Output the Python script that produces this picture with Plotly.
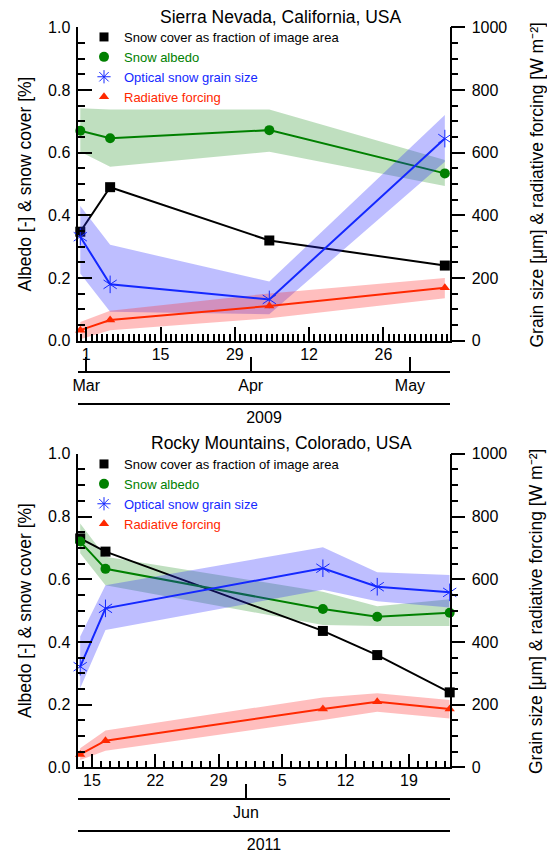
import pandas as pd
import plotly.graph_objects as go

# Sierra Nevada, 2009
sn_dates = ["2009-02-27 21:00", "2009-03-05 12:00", "2009-04-04 12:00", "2009-05-07 14:00"]
sn_range = ["2009-02-27 12:00", "2009-05-08 12:00"]
sn_cover = [0.348, 0.49, 0.32, 0.24]
sn_albedo = [0.670, 0.646, 0.672, 0.534]
sn_albedo_hi = [0.742, 0.738, 0.738, 0.577]
sn_albedo_lo = [0.603, 0.555, 0.603, 0.494]
sn_grain = [332, 180, 132, 645]
sn_grain_hi = [430, 306, 189, 720]
sn_grain_lo = [215, 93, 85, 571]
sn_rf = [34, 66, 111, 169]
sn_rf_hi = [60, 96, 151, 200]
sn_rf_lo = [5, 34, 72, 136]
sn_months = ["2009-03-01", "2009-04-01", "2009-05-01"]
sn_month_names = ["Mar", "Apr", "May"]

# Rocky Mountains, 2011
rm_dates = ["2011-05-13 17:00", "2011-05-16 12:00", "2011-06-09 12:00", "2011-06-15 12:00", "2011-06-23 12:00"]
rm_range = ["2011-05-13 12:00", "2011-06-23 12:00"]
rm_cover = [0.730, 0.688, 0.435, 0.358, 0.239]
rm_albedo = [0.72, 0.633, 0.505, 0.48, 0.493]
rm_albedo_hi = [0.778, 0.672, 0.56, 0.514, 0.536]
rm_albedo_lo = [0.683, 0.581, 0.454, 0.451, 0.451]
rm_grain = [321, 507, 635, 576, 558]
rm_grain_hi = [417, 581, 702, 622, 613]
rm_grain_lo = [252, 438, 566, 530, 510]
rm_rf = [41, 85, 186, 209, 186]
rm_rf_hi = [61, 117, 223, 236, 215]
rm_rf_lo = [23, 53, 151, 177, 156]
rm_months = ["2011-06-01"]
rm_month_names = ["Jun"]

names = ["Snow cover as fraction of image area", "Snow albedo",
         "Optical snow grain size", "Radiative forcing"]

BLACK = "black"
GREEN = "rgb(0,128,0)"
BLUE = "rgb(20,40,255)"
RED = "rgb(255,40,0)"
DAY = 86400000
W, H = 547, 853
FONT = "Liberation Sans, Arial, sans-serif"

fig = go.Figure()


def band(dates, hi, lo, color, xa, ya):
    fig.add_trace(go.Scatter(x=list(dates) + list(dates)[::-1], y=list(hi) + list(lo)[::-1],
                             fill="toself", fillcolor=color, line=dict(width=0), mode="lines",
                             showlegend=False, hoverinfo="skip", xaxis=xa, yaxis=ya))


def series(dates, vals, color, symbol, size, xa, ya):
    fig.add_trace(go.Scatter(x=dates, y=vals, mode="lines+markers", line=dict(color=color, width=2),
                             marker=dict(symbol=symbol, size=size, color=color),
                             showlegend=False, cliponaxis=False, xaxis=xa, yaxis=ya))


def star(dates, vals, color, xa, ya):
    # six-armed asterisk: y-up + y-down drawn on top of each other
    for s in ["y-up-open", "y-down-open"]:
        fig.add_trace(go.Scatter(x=dates, y=vals, mode="markers",
                                 marker=dict(symbol=s, size=11, color=color,
                                             line=dict(color=color, width=1)),
                                 showlegend=False, cliponaxis=False, hoverinfo="skip",
                                 xaxis=xa, yaxis=ya))


def panel(dates, cover, alb, alb_hi, alb_lo, grain, grain_hi, grain_lo, rf, rf_hi, rf_lo,
          xa, yl, yr, leg, extra_x):
    band(dates, alb_hi, alb_lo, "rgba(0,128,0,0.25)", xa, yl)
    band(dates, grain_hi, grain_lo, "rgba(40,40,255,0.3)", xa, yr)
    band(dates, rf_hi, rf_lo, "rgba(255,40,40,0.3)", xa, yr)
    series(dates, cover, BLACK, "square", 10, xa, yl)
    series(dates, alb, GREEN, "circle", 10, xa, yl)
    series(dates, grain, BLUE, "line-ns", 1, xa, yr)
    star(dates, grain, BLUE, xa, yr)
    series(dates, rf, RED, "triangle-up", 9, xa, yr)
    # invisible traces so the month / year axes get drawn
    for ax in extra_x:
        fig.add_trace(go.Scatter(x=dates, y=cover, mode="markers", marker=dict(opacity=0),
                                 showlegend=False, hoverinfo="skip", xaxis=ax, yaxis=yl))
    # legend entries (marker only, coloured text)
    for nm, c, s, sz in zip(names, [BLACK, GREEN, BLUE, RED],
                            ["square", "circle", "asterisk-open", "triangle-up"], [9, 10, 11, 9]):
        mk = dict(symbol=s, size=sz, color=c)
        if s == "asterisk-open":
            mk["line"] = dict(color=c, width=1)
        fig.add_trace(go.Scatter(x=[None], y=[None], mode="markers", marker=mk,
                                 name=f'<span style="color:{c}">{nm}</span>',
                                 legend=leg, xaxis=xa, yaxis=yl))


panel(sn_dates, sn_cover, sn_albedo, sn_albedo_hi, sn_albedo_lo, sn_grain, sn_grain_hi, sn_grain_lo,
      sn_rf, sn_rf_hi, sn_rf_lo, "x", "y", "y2", "legend", ["x3", "x5"])
panel(rm_dates, rm_cover, rm_albedo, rm_albedo_hi, rm_albedo_lo, rm_grain, rm_grain_hi, rm_grain_lo,
      rm_rf, rm_rf_hi, rm_rf_lo, "x2", "y3", "y4", "legend2", ["x4", "x6"])

xdom = [78.3 / W, 449.7 / W]
top_dom = [1 - 340.8 / H, 1 - 27.3 / H]
bot_dom = [1 - 767.3 / H, 1 - 453.8 / H]

axline = dict(showline=True, linecolor="black", linewidth=1.5, showgrid=False, zeroline=False,
              automargin=False, tickcolor="black", tickwidth=1.5)


def mid(r):
    a, b = pd.Timestamp(r[0]), pd.Timestamp(r[1])
    return (a + (b - a) / 2).strftime("%Y-%m-%d %H:%M")


def day_axis(rng, tick0, step, anchor):
    return dict(axline, domain=xdom, range=rng, anchor=anchor, type="date",
                tick0=tick0, dtick=step * DAY, tickformat="%-d", ticks="inside", ticklen=14,
                ticklabelstandoff=-2,
                minor=dict(dtick=DAY, tick0=tick0, ticks="inside", ticklen=7, tickwidth=1.5,
                           tickcolor="black", showgrid=False))


def month_axis(rng, over, pos, vals, text):
    return dict(axline, domain=xdom, range=rng, overlaying=over, anchor="free", position=pos,
                side="bottom", type="date", tickvals=vals, ticktext=text, ticks="inside", ticklen=14,
                ticklabelstandoff=-1)


def year_axis(rng, over, pos, year):
    return dict(axline, domain=xdom, range=rng, overlaying=over, anchor="free", position=pos,
                side="bottom", type="date", tickvals=[mid(rng)], ticktext=[year], ticks="",
                ticklabelstandoff=-1)


def left_axis(dom, anchor):
    return dict(axline, domain=dom, anchor=anchor, range=[0, 1], dtick=0.2, tickformat=".1f",
                ticks="inside", ticklen=14, ticklabelstandoff=3,
                minor=dict(dtick=0.05, ticks="inside", ticklen=7, tickwidth=1.5, tickcolor="black",
                           showgrid=False))


def right_axis(over, anchor):
    return dict(axline, overlaying=over, anchor=anchor, side="right", range=[0, 1000], dtick=200,
                ticks="outside", ticklen=14, ticklabelstandoff=3,
                minor=dict(dtick=50, ticks="outside", ticklen=7, tickwidth=1.5, tickcolor="black",
                           showgrid=False))


leg_style = dict(xanchor="left", yanchor="top", bgcolor="rgba(0,0,0,0)",
                 font=dict(size=13), tracegroupgap=0)

fig.update_layout(
    width=W, height=H,
    margin=dict(l=0, r=0, t=0, b=0),
    paper_bgcolor="white", plot_bgcolor="white",
    font=dict(family=FONT, size=16, color="black"),
    xaxis=day_axis(sn_range, "2009-03-01", 14, "y"),
    xaxis2=day_axis(rm_range, "2011-05-15", 7, "y3"),
    xaxis3=month_axis(sn_range, "x", 1 - 371.7 / H, sn_months, sn_month_names),
    xaxis4=month_axis(rm_range, "x2", 1 - 799 / H, rm_months, rm_month_names),
    xaxis5=year_axis(sn_range, "x", 1 - 404.3 / H, "2009"),
    xaxis6=year_axis(rm_range, "x2", 1 - 831 / H, "2011"),
    yaxis=left_axis(top_dom, "x"),
    yaxis2=right_axis("y", "x"),
    yaxis3=left_axis(bot_dom, "x2"),
    yaxis4=right_axis("y3", "x2"),
    legend=dict(leg_style, x=84 / W, y=1 - 22 / H),
    legend2=dict(leg_style, x=84 / W, y=1 - 449 / H),
)

# titles
for txt, yy in [("Sierra Nevada, California, USA", 17), ("Rocky Mountains, Colorado, USA", 443)]:
    fig.add_annotation(text=txt, x=281 / W, y=1 - yy / H, xref="paper", yref="paper",
                       xanchor="center", yanchor="middle", showarrow=False, font=dict(size=17.5))

for yc in [184, 610.5]:
    fig.add_annotation(text="Albedo [-] & snow cover [%]", x=24.5 / W, y=1 - yc / H,
                       xref="paper", yref="paper", xanchor="center", yanchor="middle",
                       textangle=-90, showarrow=False, font=dict(size=17.5))
    fig.add_annotation(text="Grain size [μm] & radiative forcing [W m⁻²]", x=536 / W,
                       y=1 - (yc + 1.5) / H, xref="paper", yref="paper", xanchor="center",
                       yanchor="middle", textangle=-90, showarrow=False, font=dict(size=17.5))

fig.write_html("out.html", config=dict(displayModeBar=False),
               post_script="document.body.style.margin='0';document.body.style.overflow='hidden';")
